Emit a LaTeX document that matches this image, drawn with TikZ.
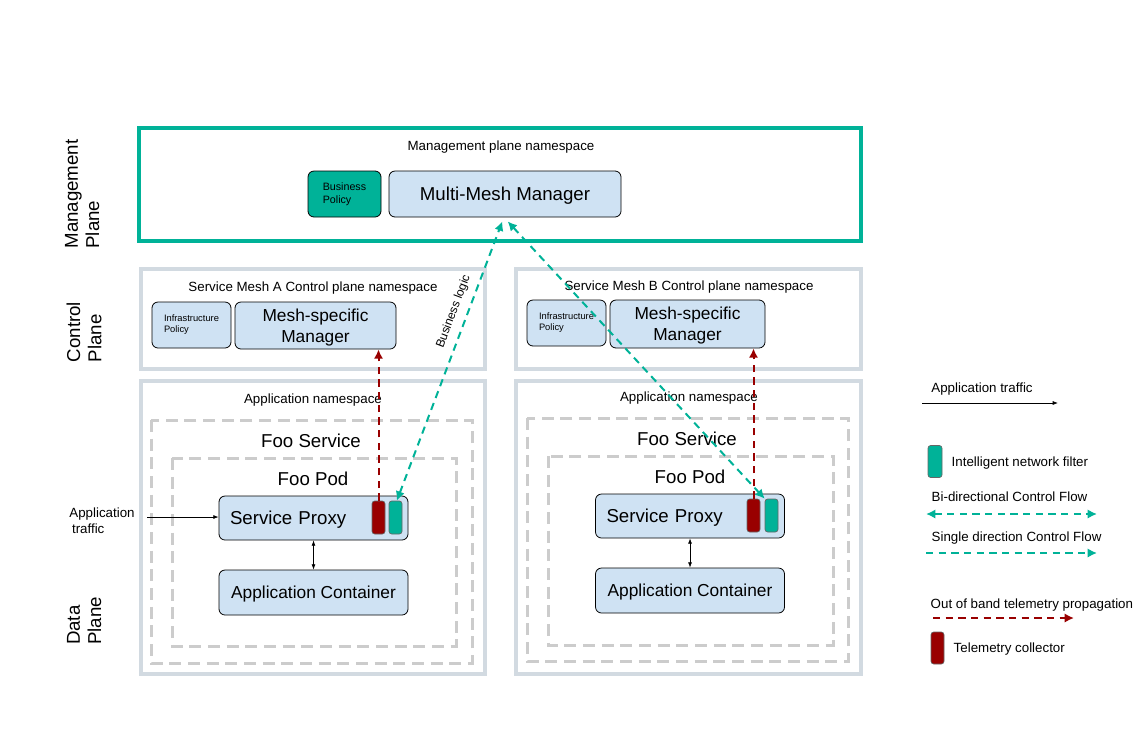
\documentclass[tikz,border=0pt]{standalone}
\usepackage{fontspec}
\setmainfont{Liberation Sans}
\usetikzlibrary{arrows.meta,calc}

\definecolor{mmteal}{RGB}{0,178,152}
\definecolor{mmblue}{RGB}{207,226,243}
\definecolor{mmred}{RGB}{153,0,0}
\definecolor{mmgray}{RGB}{210,218,225}
\definecolor{mmdash}{RGB}{204,204,204}

\tikzset{
	txtbig/.style={font=\fontsize{14}{16}\selectfont, text depth=0pt},
	txtbox/.style={font=\fontsize{13}{15.5}\selectfont, text depth=0pt},
	txtmid/.style={font=\fontsize{10}{12}\selectfont, text depth=0pt},
	txtbiz/.style={font=\fontsize{8}{9.75}\selectfont},
	txtinfra/.style={font=\fontsize{7}{8.25}\selectfont},
	boxsize/.style 2 args={minimum width=#1*0.75pt, minimum height=#2*0.75pt, inner sep=0pt},
	box/.style={draw=black, line width=0.6pt, rounded corners=4.5pt, fill=mmblue},
	chip/.style={draw=black!60, line width=0.5pt, rounded corners=2pt},
	proxy/.style={box, txtbig, text width=125.25pt, inner xsep=8.25pt, minimum height=33pt, align=left},
	plane/.style={draw=mmgray, line width=2.4pt},
	ns/.style={draw=mmdash, line width=2.25pt, dash pattern=on 9pt off 5pt},
	flow/.style={draw=black, line width=0.5pt, >={Latex[length=4pt,width=3pt]}},
	ctrl/.style={draw=mmteal, line width=1.5pt, dash pattern=on 5.5pt off 4pt, >={Latex[length=7pt,width=7pt]}},
	tele/.style={draw=mmred, line width=1.5pt, dash pattern=on 5.5pt off 4pt, ->, >={Latex[length=7pt,width=7pt]}},
}

\begin{document}
\begin{tikzpicture}[x=0.75pt,y=-0.75pt]

\useasboundingbox (0,0) rectangle (1137,754);

% plane labels
\node[txtbig, rotate=90, align=left] (lblmgmt) at (82,194) {Management\\Plane};
\node[txtbig, rotate=90, align=left] (lblctrl) at (84,332) {Control\\Plane};
\node[txtbig, rotate=90, align=left] (lbldata) at (84,621) {Data\\Plane};

% management plane
\draw[draw=mmteal, line width=2.5pt] (139,128) rectangle (861,241);
\node[txtmid] (mgmtns) at (501,146) {Management plane namespace};
\node[box, fill=mmteal, boxsize={73}{46}, txtbiz, align=left] (bizpol) at (344.5,194) {Business\\Policy};
\node[box, boxsize={232}{46}, txtbig] (mmm) at (505,194) {Multi-Mesh Manager};

% control plane A
\draw[plane] (141,269) rectangle (485,369);
\node[txtmid] (cpAns) at (313,287) {Service Mesh A Control plane namespace};
\node[box, boxsize={79}{46}, txtinfra, align=left] (infA) at (191.5,325) {Infrastructure\\Policy};
\node[box, boxsize={161}{47}, txtbox, align=center] (msmA) at (315.5,325.5) {Mesh-specific\\Manager};

% control plane B
\draw[plane] (516,269) rectangle (861,369);
\node[txtmid] (cpBns) at (689,286) {Service Mesh B Control plane namespace};
\node[box, boxsize={79}{46}, txtinfra, align=left] (infB) at (566.5,323) {Infrastructure\\Policy};
\node[box, boxsize={155}{48}, txtbox, align=center] (msmB) at (687.5,324) {Mesh-specific\\Manager};

% data plane A
\draw[plane] (141,381) rectangle (485,674);
\node[txtmid] (nsA) at (313,399) {Application namespace};
\draw[ns] (151,420) rectangle (472,663);
\node[txtbig] (svcA) at (311,441) {Foo Service};
\draw[ns] (172,458) rectangle (456,646);
\node[txtbig] (podA) at (313,479) {Foo Pod};
\node[proxy] (proxyA) at (313.5,518) {Service Proxy};
\node[chip, fill=mmred, boxsize={13}{33}] (telA) at (378.5,517.5) {};
\node[chip, fill=mmteal, boxsize={13}{33}] (filtA) at (395.5,517.5) {};
\node[box, boxsize={189}{45}, txtbox] (appA) at (313.5,592.5) {Application Container};

% data plane B
\draw[plane] (516,381) rectangle (861,674);
\node[txtmid] (nsB) at (689,397) {Application namespace};
\draw[ns] (527,418) rectangle (848,661);
\node[txtbig] (svcB) at (687,439) {Foo Service};
\draw[ns] (548,456) rectangle (833,645);
\node[txtbig] (podB) at (690,477) {Foo Pod};
\node[proxy] (proxyB) at (690,516) {Service Proxy};
\node[chip, fill=mmred, boxsize={13}{33}] (telB) at (753.5,515.5) {};
\node[chip, fill=mmteal, boxsize={13}{33}] (filtB) at (771.5,515.5) {};
\node[box, boxsize={189}{45}, txtbox] (appB) at (690,590.5) {Application Container};

% traffic in
\node[txtmid, align=left] (trafA) at (102,521) {Application\\\hspace{2pt}traffic};
\coordinate (trafin) at (147,517);
\draw[flow, ->] (trafin) -- (trafin -| proxyA.west);
\draw[flow, <->] (proxyA.south) -- (appA.north);
\draw[flow, <->] (proxyB.south) -- (appB.north);

% telemetry
\draw[tele] (telA.north) -- (telA.north |- msmA.south);
\draw[tele] (telB.north) -- (telB.north |- msmB.south);

% control flow
\draw[ctrl, <->] ([xshift=1pt]filtA.north) -- ([xshift=-2pt,yshift=-3pt]mmm.south)
	node[pos=0.66, above=2pt, sloped, font=\fontsize{9}{11}\selectfont] (bizlogic) {Business logic};
\draw[ctrl, <->] ([xshift=2pt,yshift=-3pt]mmm.south) -- (filtB.north west);

% legend
\node[txtmid] (lgtraf) at (982,388) {Application traffic};
\coordinate (lgtrafs) at (922,403);
\coordinate (lgtrafe) at (1058,403);
\draw[flow, ->] (lgtrafs) -- (lgtrafe);

\node[chip, fill=mmteal, boxsize={14}{32}] (lgfilt) at (935,461.5) {};
\node[txtmid, anchor=west] (lgfilttxt) at (947,462) {Intelligent network filter};

\node[txtmid, anchor=west] (lgbi) at (927,497) {Bi-directional Control Flow};
\coordinate (lgbis) at (926,514);
\coordinate (lgbie) at (1097,514);
\draw[ctrl, <->] (lgbis) -- (lgbie);

\node[txtmid, anchor=west] (lgsingle) at (927,537) {Single direction Control Flow};
\coordinate (lgsgs) at (926,553);
\coordinate (lgsge) at (1097,553);
\draw[ctrl, ->] (lgsgs) -- (lgsge);

\node[txtmid, anchor=west] (lgtele) at (926,604) {Out of band telemetry propagation};
\coordinate (lgteles) at (933,618);
\coordinate (lgtelee) at (1074,618);
\draw[tele] (lgteles) -- (lgtelee);

\node[chip, fill=mmred, boxsize={13}{32}] (lgtel) at (937.5,648) {};
\node[txtmid, anchor=west] (lgteltxt) at (949,648) {Telemetry collector};

\end{tikzpicture}
\end{document}
